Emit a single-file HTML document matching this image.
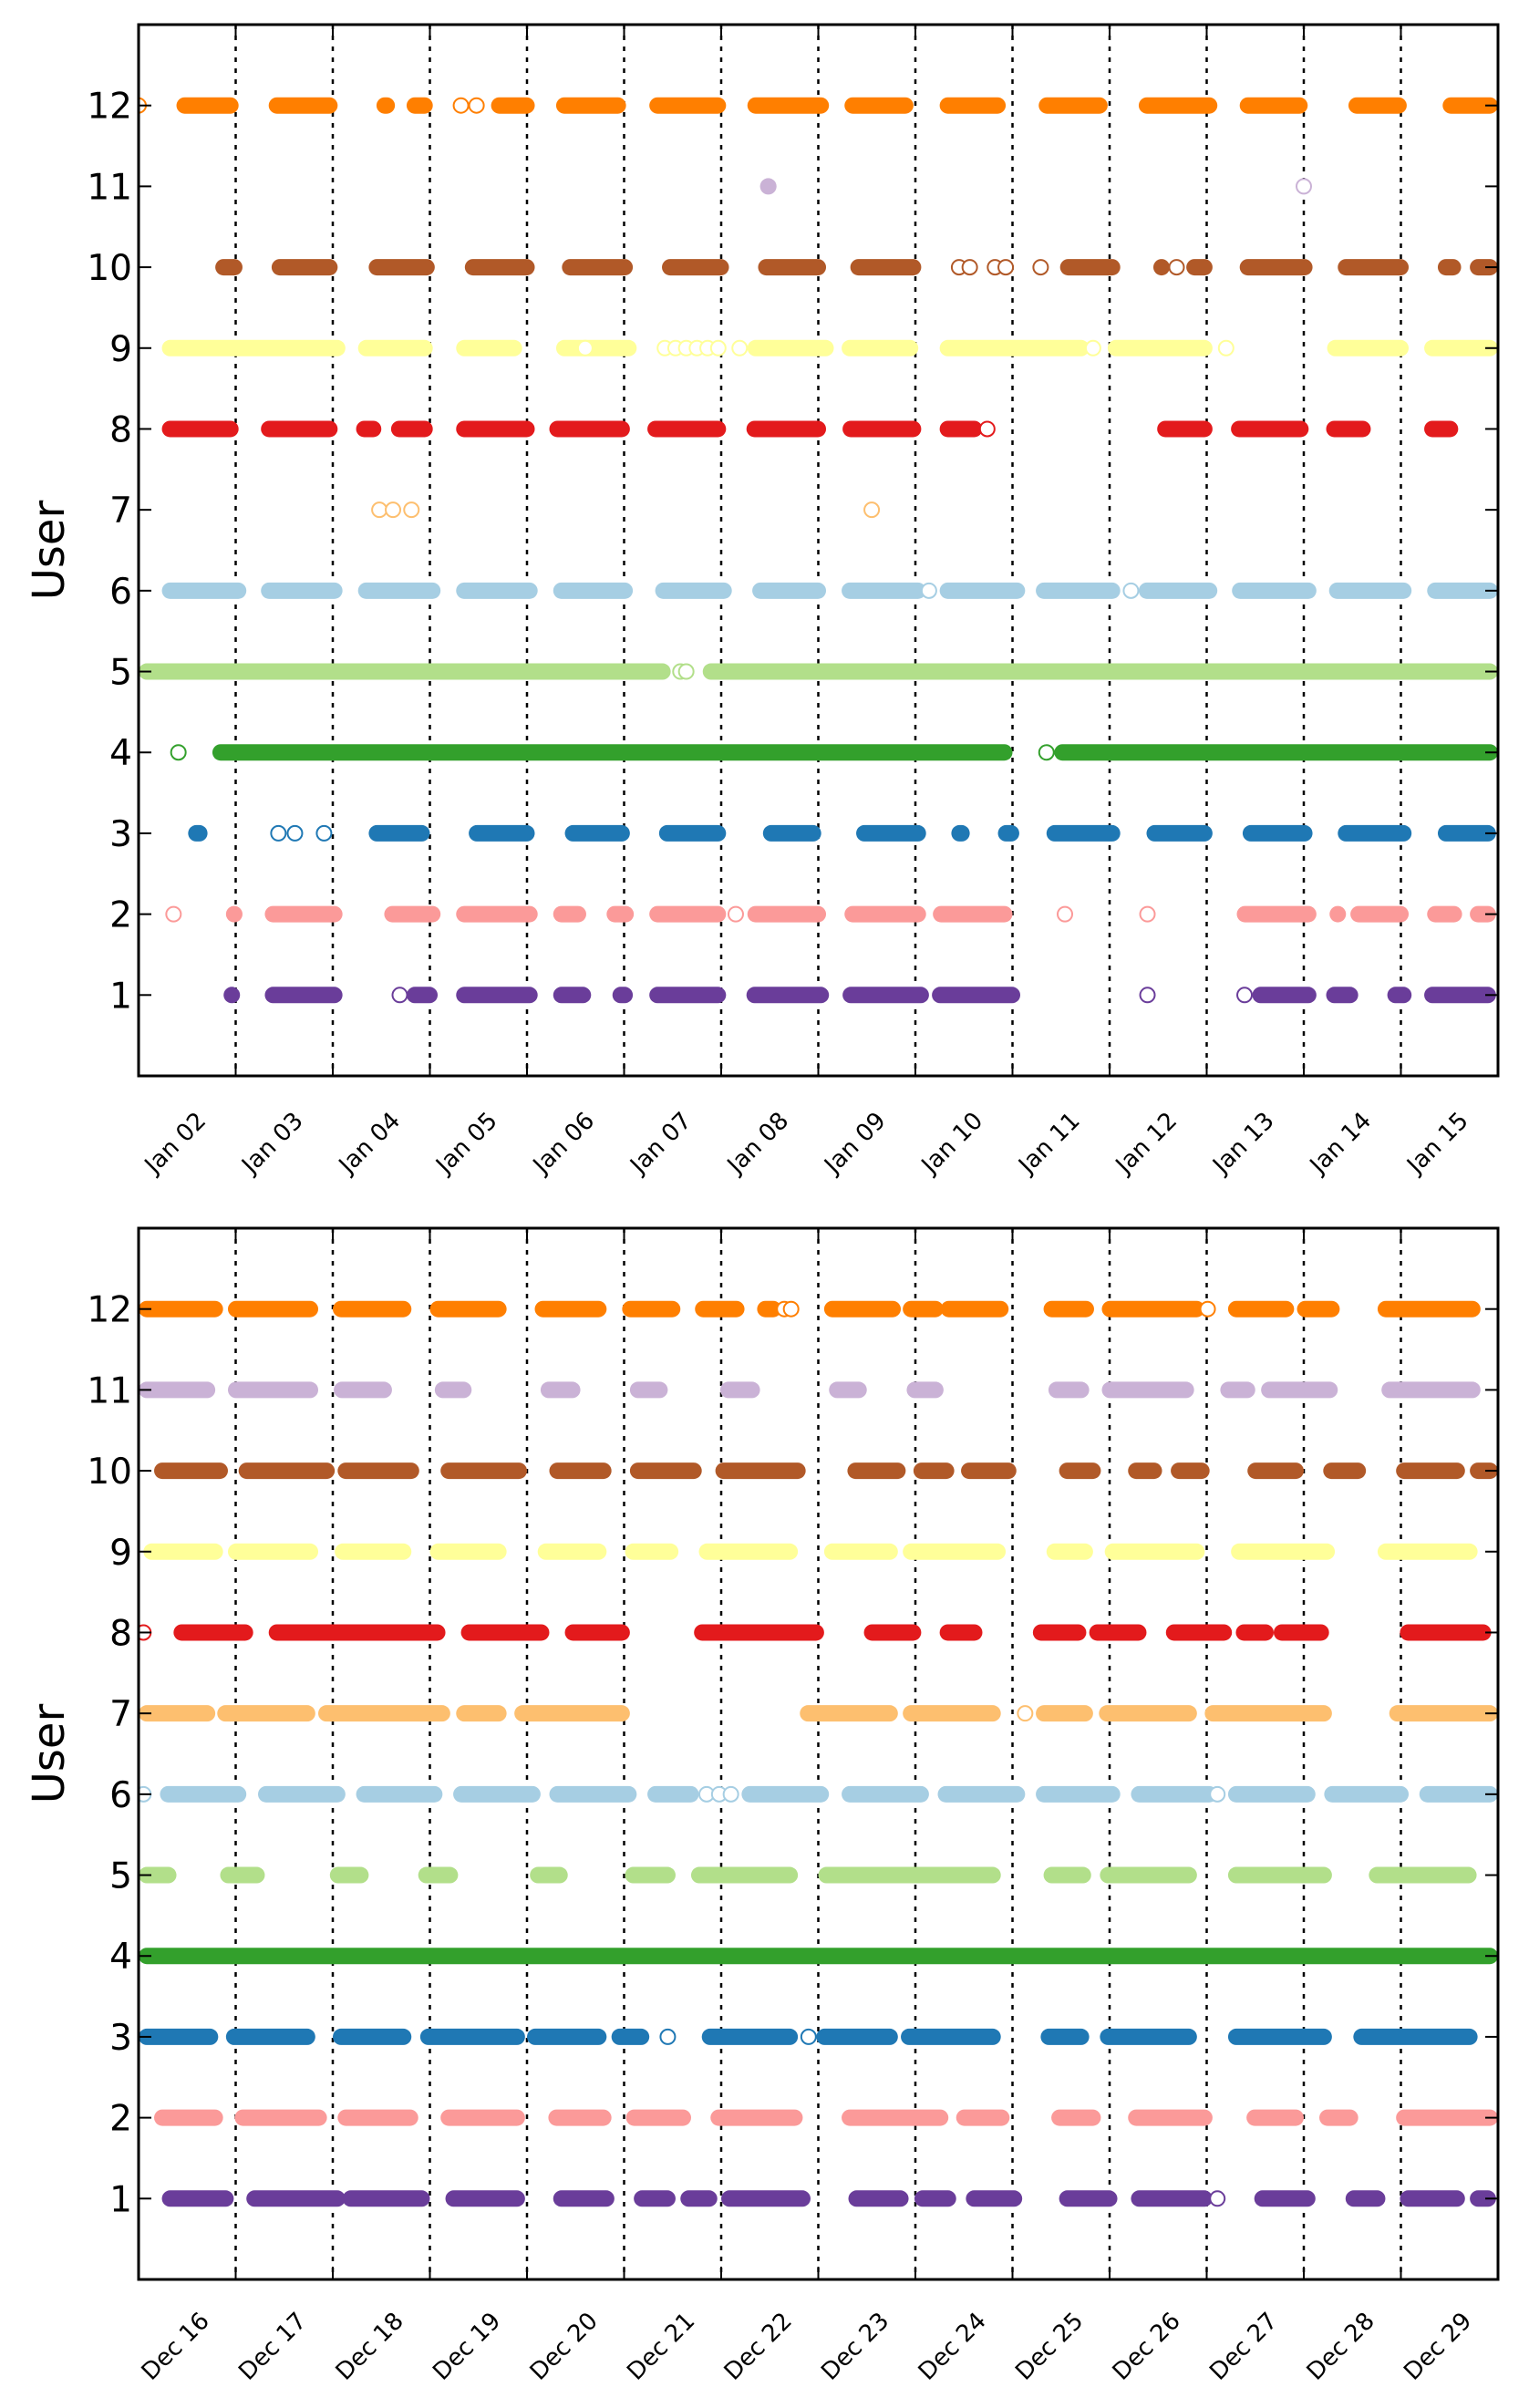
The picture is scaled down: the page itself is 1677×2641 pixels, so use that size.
<!DOCTYPE html>
<html><head><meta charset="utf-8"><style>
html,body{margin:0;padding:0;background:#fff;}
svg{display:block;font-family:"DejaVu Sans","Liberation Sans",sans-serif;}
</style></head><body>
<svg id="chart" width="1677" height="2641" viewBox="0 0 1677 2641" xmlns="http://www.w3.org/2000/svg"></svg>
<script>
const colors=["#6a3d9a","#fb9a99","#1f78b4","#33a02c","#b2df8a","#a6cee3","#fdbf6f","#e31a1c","#ffff99","#b15928","#cab2d6","#ff7f00"];
const userTicks=[1,2,3,4,5,6,7,8,9,10,11,12];
const topDayLabels=["Jan 02","Jan 03","Jan 04","Jan 05","Jan 06","Jan 07","Jan 08","Jan 09","Jan 10","Jan 11","Jan 12","Jan 13","Jan 14","Jan 15"];
const bottomDayLabels=["Dec 16","Dec 17","Dec 18","Dec 19","Dec 20","Dec 21","Dec 22","Dec 23","Dec 24","Dec 25","Dec 26","Dec 27","Dec 28","Dec 29"];
// activity segments [startDay,endDay] per user (index 0 = user 1)
const topSegments=[
[[0.88,1.04],[1.3,2.1],[2.76,3.08],[3.27,4.11],[4.27,4.66],[4.88,5.09],[5.26,6.05],[6.26,7.11],[7.25,8.14],[8.17,9.08],[11.47,12.13],[12.23,12.56],[12.86,13.11],[13.24,13.98]],
[[0.9,1.07],[1.3,2.1],[2.53,3.11],[3.27,4.11],[4.27,4.61],[4.82,5.1],[5.26,6.05],[6.27,7.08],[7.27,8.11],[8.18,9.0],[11.31,12.13],[12.27,12.43],[12.48,13.08],[13.27,13.63],[13.71,13.98]],
[[0.51,0.71],[2.37,3.0],[3.4,4.08],[4.39,5.06],[5.36,6.05],[6.43,7.03],[7.39,8.11],[8.37,8.56],[8.85,9.07],[9.35,10.11],[10.38,11.06],[11.37,12.09],[12.35,13.11],[13.38,13.98]],
[[0.76,9.0],[9.43,14.0]],
[[0.0,5.48],[5.81,14.0]],
[[0.24,1.11],[1.26,2.1],[2.26,3.11],[3.27,4.11],[4.27,5.09],[5.32,6.11],[6.32,7.08],[7.24,8.11],[8.25,9.13],[9.24,10.11],[10.30,11.11],[11.26,12.13],[12.26,13.11],[13.27,14.0]],
[],
[[0.24,1.03],[1.26,2.05],[2.24,2.5],[2.6,3.03],[3.27,4.08],[4.23,5.06],[5.24,6.05],[6.26,7.08],[7.25,8.06],[8.25,8.69],[10.49,11.06],[11.25,12.05],[12.23,12.69],[13.24,13.59]],
[[0.24,2.13],[2.26,3.03],[3.27,3.95],[4.3,5.13],[6.27,7.16],[7.24,8.03],[8.25,9.79],[9.98,11.06],[12.24,13.08],[13.24,14.0]],
[[0.79,1.07],[1.37,2.05],[2.37,3.05],[3.36,4.08],[4.36,5.09],[5.39,6.08],[6.38,7.08],[7.33,8.06],[9.49,10.11],[10.49,10.58],[10.79,11.06],[11.34,12.09],[12.35,13.08],[13.38,13.62],[13.71,14.0]],
[[6.4,6.57]],
[[0.39,1.03],[1.34,2.05],[2.45,2.64],[2.76,3.03],[3.63,4.08],[4.30,5.02],[5.26,6.05],[6.27,7.11],[7.27,7.98],[8.25,8.93],[9.27,9.98],[10.30,11.11],[11.34,12.04],[12.46,13.06],[13.43,14.0]]
];
// isolated (hollow) observations [day,user]
const topPoints=[[2.69,1],[10.39,1],[11.39,1],[0.36,2],[6.15,2],[9.54,2],[10.39,2],[1.44,3],[1.61,3],[1.91,3],[0.41,4],[9.35,4],[5.58,5],[5.64,5],[10.22,6],[8.14,6],[2.48,7],[2.62,7],[2.81,7],[7.55,7],[8.74,8],[4.6,9],[5.42,9],[5.53,9],[5.64,9],[5.75,9],[5.86,9],[5.97,9],[6.19,9],[9.83,9],[11.2,9],[8.45,10],[8.56,10],[8.82,10],[8.93,10],[9.29,10],[10.69,10],[12.0,11],[0.0,12],[3.32,12],[3.48,12]];
const bottomSegments=[
[[0.24,0.98],[1.11,2.13],[2.1,3.0],[3.16,3.98],[4.27,4.9],[5.1,5.53],[5.58,5.96],[6.0,6.92],[7.31,7.93],[7.99,8.42],[8.52,9.1],[9.48,10.08],[10.22,11.06],[11.49,12.12],[12.43,12.84],[12.99,13.66],[13.71,13.98]],
[[0.16,0.87],[0.99,1.94],[2.05,2.88],[3.11,3.98],[4.22,4.87],[5.02,5.69],[5.89,6.84],[7.24,8.34],[8.42,8.97],[9.4,9.91],[10.19,11.06],[11.41,12.0],[12.16,12.56],[12.95,14.0]],
[[0.0,0.82],[0.9,1.82],[2.0,2.81],[2.9,3.98],[4.0,4.82],[4.87,5.26],[5.8,6.79],[6.98,7.82],[7.85,8.88],[9.29,9.79],[9.9,10.9],[11.22,12.29],[12.51,13.79]],
[[0.0,14.0]],
[[0.0,0.39],[0.84,1.3],[1.97,2.37],[2.88,3.29],[4.03,4.42],[5.01,5.53],[5.69,6.79],[7.0,8.88],[9.32,9.81],[9.9,10.9],[11.22,12.29],[12.67,13.78]],
[[0.22,1.11],[1.23,2.13],[2.24,3.13],[3.24,4.14],[4.23,5.13],[5.24,5.77],[6.21,7.11],[7.24,8.14],[8.23,9.13],[9.24,10.11],[10.22,11.11],[11.22,12.12],[12.21,13.08],[13.19,14.0]],
[[0.0,0.79],[0.81,1.82],[1.85,3.21],[3.27,3.79],[3.87,5.06],[6.81,7.82],[7.87,8.88],[9.24,9.83],[9.89,10.9],[10.98,12.29],[12.88,14.0]],
[[0.36,1.18],[1.34,3.16],[3.32,4.23],[4.39,5.06],[5.72,7.06],[7.47,8.06],[8.25,8.69],[9.21,9.76],[9.79,10.38],[10.58,11.26],[11.3,11.69],[11.69,12.26],[12.99,13.93]],
[[0.05,0.87],[0.92,1.85],[2.02,2.81],[3.0,3.79],[4.11,4.82],[5.01,5.56],[5.77,6.79],[7.06,7.82],[7.87,8.93],[9.35,9.83],[9.95,10.98],[11.25,12.32],[12.76,13.79]],
[[0.16,0.92],[1.03,2.02],[2.05,2.89],[3.11,4.0],[4.23,4.87],[5.06,5.8],[5.94,6.87],[7.3,7.9],[7.98,8.4],[8.47,9.04],[9.48,9.91],[10.19,10.54],[10.63,11.03],[11.42,12.0],[12.2,12.64],[12.95,13.66],[13.71,14.0]],
[[0.0,0.79],[0.92,1.85],[2.01,2.61],[3.05,3.43],[4.14,4.55],[5.06,5.45],[5.99,6.4],[7.11,7.5],[7.91,8.29],[9.37,9.79],[9.92,10.87],[11.14,11.5],[11.56,12.35],[12.8,13.82]],
[[0.0,0.87],[0.92,1.85],[2.0,2.81],[3.0,3.79],[4.08,4.82],[4.98,5.58],[5.73,6.24],[6.37,6.62],[7.06,7.85],[7.87,8.29],[8.26,8.96],[9.32,9.84],[9.92,10.98],[11.22,11.9],[11.93,12.37],[12.76,13.82]]
];
const bottomPoints=[[11.11,1],[5.45,3],[6.9,3],[0.05,6],[5.85,6],[5.98,6],[6.1,6],[11.11,6],[9.13,7],[0.05,8],[6.65,12],[6.72,12],[11.01,12]];

const NS="http://www.w3.org/2000/svg";
const svg=document.getElementById('chart');
const L=152,R=1643,W=R-L,NDAYS=14,R_M=9;
function mk(tag,attrs,parent){const e=document.createElementNS(NS,tag);for(const k in attrs)e.setAttribute(k,attrs[k]);(parent||svg).appendChild(e);return e;}

function drawPanel(top,bottom,labels,segs,pts,key){
  const H=bottom-top;
  const xs=d=>L+d*W/NDAYS;
  const ys=u=>top+(13-u)*H/13;
  const g=mk('g',{});
  
  
  for(let i=1;i<NDAYS;i++){
    const ln=mk('line',{x1:xs(i),x2:xs(i),y1:top,y2:bottom,stroke:'#000','stroke-width':2.5,'stroke-dasharray':'5,7'},g);
    
    
  }
  segs.forEach((arr,ui)=>{
    const u=ui+1;
    const sg=mk('g',{},g);
    
    
    arr.forEach(s=>{
      let a=Math.max(xs(s[0])+R_M,L),b=Math.min(xs(s[1])-R_M,R);
      if(b<a){const m=(a+b)/2;a=m;b=m;}
      const ln=mk('line',{x1:a,x2:b,y1:ys(u),y2:ys(u),stroke:colors[ui],'stroke-width':18,'stroke-linecap':'round'},sg);
      
      
    });
  });
  pts.forEach(p=>{
    const c=mk('circle',{cx:xs(p[0]),cy:ys(p[1]),r:8,fill:'#fff',stroke:colors[p[1]-1],'stroke-width':2},g);
    
    
  });
  mk('rect',{x:0,y:top-30,width:L-1,height:H+60,fill:'#fff'},g);
  mk('rect',{x:R+1,y:top-30,width:40,height:H+60,fill:'#fff'},g);
  const fr=mk('rect',{x:L,y:top,width:W,height:H,fill:'none',stroke:'#000','stroke-width':3},g);
  
  
  userTicks.forEach(u=>{
    mk('line',{x1:L,x2:L+14,y1:ys(u),y2:ys(u),stroke:'#000','stroke-width':2},g);
    mk('line',{x1:R-14,x2:R,y1:ys(u),y2:ys(u),stroke:'#000','stroke-width':2},g);
    const t=mk('text',{x:145,y:ys(u)+14,'text-anchor':'end','font-size':39,fill:'#000'},g);
    t.textContent=u;
    
    
  });
  labels.forEach((lab,i)=>{
    const x=xs(i);
    mk('line',{x1:x,x2:x,y1:bottom-14,y2:bottom,stroke:'#000','stroke-width':2},g);
    mk('line',{x1:x,x2:x,y1:top,y2:top+14,stroke:'#000','stroke-width':2},g);
    const cx=x+40,cy=bottom+73;
    const t=mk('text',{x:cx,y:cy+9,'text-anchor':'middle','font-size':26,fill:'#000',transform:'rotate(-45 '+cx+' '+cy+')'},g);
    t.textContent=lab;
    
    
  });
  const yl=mk('text',{x:70,y:top+H/2,'text-anchor':'middle','font-size':48,fill:'#000',transform:'rotate(-90 70 '+(top+H/2)+')'},g);
  yl.textContent='User';
  
  
}
drawPanel(27,1180,topDayLabels,topSegments,topPoints,'january');
drawPanel(1347,2500,bottomDayLabels,bottomSegments,bottomPoints,'december');
</script>
</body></html>
